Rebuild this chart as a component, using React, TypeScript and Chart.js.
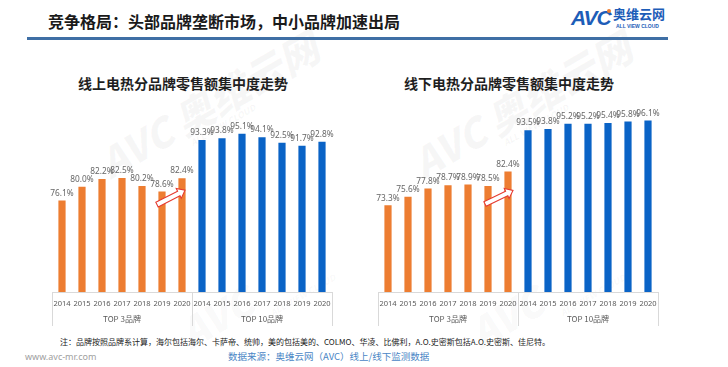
import React, { useEffect, useRef } from "react";
import { Chart, registerables } from "chart.js";

Chart.register(...registerables);

const YEARS = ["2014", "2015", "2016", "2017", "2018", "2019", "2020"];
const GROUPS = ["TOP 3品牌", "TOP 10品牌"];
const ONLINE_TOP3 = [76.1, 80.0, 82.2, 82.5, 80.2, 78.6, 82.4];
const ONLINE_TOP10 = [93.3, 93.8, 95.1, 94.1, 92.5, 91.7, 92.8];
const OFFLINE_TOP3 = [73.3, 75.6, 77.8, 78.7, 78.9, 78.5, 82.4];
const OFFLINE_TOP10 = [93.5, 93.8, 95.2, 95.2, 95.4, 95.8, 96.1];

const ORANGE = "#ED7D31";
const BLUE = "#0A63C6";
const CJK = '"Noto Sans CJK SC", "Noto Sans", sans-serif';
const NUM = '"Noto Sans", "Liberation Sans", sans-serif';

const valueLabels = {
  id: "valueLabels",
  afterDatasetsDraw(chart: any) {
    const ctx = chart.ctx;
    const meta = chart.getDatasetMeta(0);
    const data = chart.data.datasets[0].data as number[];
    ctx.save();
    ctx.font = `8.3px ${NUM}`;
    ctx.fillStyle = "#666666";
    ctx.textAlign = "center";
    ctx.textBaseline = "bottom";
    meta.data.forEach((bar: any, i: number) => {
      ctx.fillText(data[i].toFixed(1) + "%", bar.x, bar.y - 3);
    });
    ctx.restore();
  },
};

const groupAxis = {
  id: "groupAxis",
  afterDraw(chart: any) {
    const ctx = chart.ctx;
    const { left, right, bottom } = chart.chartArea;
    const n = chart.data.labels.length;
    const per = (right - left) / n;
    const mid = left + per * YEARS.length;
    ctx.save();
    ctx.strokeStyle = "#d9d9d9";
    ctx.lineWidth = 1;
    [left, mid, right].forEach((px) => {
      const xx = Math.round(px) + 0.5;
      ctx.beginPath();
      ctx.moveTo(xx, bottom);
      ctx.lineTo(xx, bottom + 34);
      ctx.stroke();
    });
    ctx.font = `8px ${CJK}`;
    ctx.fillStyle = "#595959";
    ctx.textAlign = "center";
    ctx.textBaseline = "middle";
    ctx.fillText(GROUPS[0], (left + mid) / 2, bottom + 27);
    ctx.fillText(GROUPS[1], (mid + right) / 2, bottom + 27);
    ctx.restore();
  },
};

function makeArrowPlugin(dxStart: number, dxEnd: number, dyStart: number, dyEnd: number) {
  return {
    id: "trendArrow",
    afterDatasetsDraw(chart: any) {
      const meta = chart.getDatasetMeta(0);
      const a = meta.data[5];
      const b = meta.data[6];
      const x0 = a.x + dxStart;
      const y0 = a.y + dyStart;
      const x1 = b.x + dxEnd;
      const y1 = b.y + dyEnd;
      const ang = Math.atan2(y1 - y0, x1 - x0);
      const L = Math.hypot(x1 - x0, y1 - y0);
      const h = 2.6;
      const H = 5.5;
      const hl = 7;
      const ctx = chart.ctx;
      ctx.save();
      ctx.translate(x0, y0);
      ctx.rotate(ang);
      ctx.beginPath();
      ctx.moveTo(0, -h);
      ctx.lineTo(L - hl, -h);
      ctx.lineTo(L - hl, -H);
      ctx.lineTo(L, 0);
      ctx.lineTo(L - hl, H);
      ctx.lineTo(L - hl, h);
      ctx.lineTo(0, h);
      ctx.closePath();
      ctx.fillStyle = "#ffffff";
      ctx.fill();
      ctx.strokeStyle = "#E53A2F";
      ctx.lineWidth = 1.1;
      ctx.stroke();
      ctx.restore();
    },
  };
}

function BarChart(props: {
  top3: number[];
  top10: number[];
  padTop: number;
  left: number;
  arrow: [number, number, number, number];
}) {
  const ref = useRef<HTMLCanvasElement | null>(null);
  useEffect(() => {
    const chart = new Chart(ref.current as HTMLCanvasElement, {
      type: "bar",
      data: {
        labels: [...YEARS, ...YEARS],
        datasets: [
          {
            data: [...props.top3, ...props.top10],
            backgroundColor: [...props.top3.map(() => ORANGE), ...props.top10.map(() => BLUE)],
            barPercentage: 0.36,
            categoryPercentage: 1,
          },
        ],
      },
      options: {
        responsive: false,
        animation: false,
        layout: { padding: { left: 32, right: 18, top: props.padTop, bottom: 0 } },
        plugins: { legend: { display: false }, tooltip: { enabled: false } },
        scales: {
          x: {
            grid: { display: false, drawTicks: false },
            border: { display: true, color: "#d9d9d9", width: 1 },
            ticks: {
              font: { size: 7.5, family: NUM },
              color: "#595959",
              padding: 7,
              autoSkip: false,
              maxRotation: 0,
              minRotation: 0,
            },
            afterFit: (s: any) => {
              s.height = 40;
            },
          },
          y: { display: false, min: 50, max: 100 },
        },
      } as any,
      plugins: [valueLabels, groupAxis, makeArrowPlugin(...props.arrow)],
    });
    return () => chart.destroy();
  }, []);
  return (
    <canvas
      ref={ref}
      width={330}
      height={232}
      style={{ position: "absolute", left: props.left, top: 100, width: 330, height: 232 }}
    />
  );
}

function Watermark(props: { left: number; top: number; size: number; alpha: number; full: boolean }) {
  return (
    <div
      style={{
        position: "absolute",
        left: props.left,
        top: props.top,
        transform: "rotate(-30deg)",
        transformOrigin: "left top",
        color: `rgba(120,120,120,${props.alpha})`,
        fontFamily: CJK,
        fontWeight: 900,
        fontStyle: "italic",
        fontSize: props.size,
        whiteSpace: "nowrap",
        lineHeight: 1,
      }}
    >
      <span>AVC</span>
      {props.full ? <span style={{ marginLeft: 8 }}>奥维云网</span> : null}
      <div style={{ fontSize: props.size * 0.22, marginLeft: props.size * 2.2, marginTop: 2 }}>ALL VIEW CLOUD</div>
    </div>
  );
}

export default function App() {
  return (
    <div
      style={{
        position: "absolute",
        left: 0,
        top: 0,
        width: 728,
        height: 367,
        background: "#ffffff",
        overflow: "hidden",
        fontFamily: CJK,
      }}
    >
      <Watermark left={92} top={148} size={40} alpha={0.06} full={true} />
      <Watermark left={405} top={148} size={40} alpha={0.06} full={true} />
      <Watermark left={172} top={318} size={40} alpha={0.045} full={false} />
      <Watermark left={462} top={318} size={40} alpha={0.045} full={false} />

      <div
        style={{
          position: "absolute",
          left: 48,
          top: 10,
          fontSize: 16,
          fontWeight: 700,
          color: "#1a1a1a",
          lineHeight: "22px",
          whiteSpace: "nowrap",
        }}
      >
        竞争格局：头部品牌垄断市场，中小品牌加速出局
      </div>
      <div style={{ position: "absolute", left: 27, top: 37, width: 641, height: 3, background: "#3F6FA5" }} />

      <div
        style={{
          position: "absolute",
          left: 571,
          top: 7,
          fontFamily: '"Liberation Sans", sans-serif',
          fontWeight: 900,
          fontStyle: "italic",
          fontSize: 21,
          color: "#1D5DB8",
          lineHeight: "22px",
          letterSpacing: -1,
        }}
      >
        AVC
      </div>
      <div style={{ position: "absolute", left: 607, top: 9, width: 4, height: 4, borderRadius: 2, background: ORANGE }} />
      <div
        style={{
          position: "absolute",
          left: 613,
          top: 6,
          fontSize: 13,
          fontWeight: 700,
          color: "#1D5DB8",
          lineHeight: "16px",
          whiteSpace: "nowrap",
        }}
      >
        奥维云网
      </div>
      <div
        style={{
          position: "absolute",
          left: 616,
          top: 23,
          fontSize: 5,
          fontWeight: 700,
          color: "#1D5DB8",
          lineHeight: "6px",
          whiteSpace: "nowrap",
          fontFamily: '"Liberation Sans", sans-serif',
        }}
      >
        ALL VIEW CLOUD
      </div>

      <div
        style={{
          position: "absolute",
          left: 63,
          top: 73,
          width: 240,
          textAlign: "center",
          fontSize: 14,
          fontWeight: 700,
          color: "#1f1f1f",
          lineHeight: "20px",
          whiteSpace: "nowrap",
        }}
      >
        线上电热分品牌零售额集中度走势
      </div>
      <div
        style={{
          position: "absolute",
          left: 389,
          top: 73,
          width: 240,
          textAlign: "center",
          fontSize: 14,
          fontWeight: 700,
          color: "#1f1f1f",
          lineHeight: "20px",
          whiteSpace: "nowrap",
        }}
      >
        线下电热分品牌零售额集中度走势
      </div>

      <BarChart top3={ONLINE_TOP3} top10={ONLINE_TOP10} padTop={16.5} left={20} arrow={[-5, 3, 13, 12]} />
      <BarChart top3={OFFLINE_TOP3} top10={OFFLINE_TOP10} padTop={6} left={346} arrow={[-3, 5, 18, 19]} />

      <div
        style={{
          position: "absolute",
          left: 60,
          top: 336,
          fontSize: 8,
          color: "#222222",
          lineHeight: "11px",
          whiteSpace: "nowrap",
        }}
      >
        注：品牌按照品牌系计算，海尔包括海尔、卡萨帝、统帅，美的包括美的、COLMO、华凌、比佛利，A.O.史密斯包括A.O.史密斯、佳尼特。
      </div>
      <div
        style={{
          position: "absolute",
          left: 25,
          top: 351,
          fontSize: 9,
          color: "#a0a0a0",
          lineHeight: "12px",
          fontFamily: NUM,
          whiteSpace: "nowrap",
        }}
      >
        www.avc-mr.com
      </div>
      <div
        style={{
          position: "absolute",
          left: 228,
          top: 350,
          fontSize: 9.5,
          color: "#4A86C5",
          lineHeight: "13px",
          whiteSpace: "nowrap",
        }}
      >
        数据来源：奥维云网（AVC）线上/线下监测数据
      </div>
    </div>
  );
}
